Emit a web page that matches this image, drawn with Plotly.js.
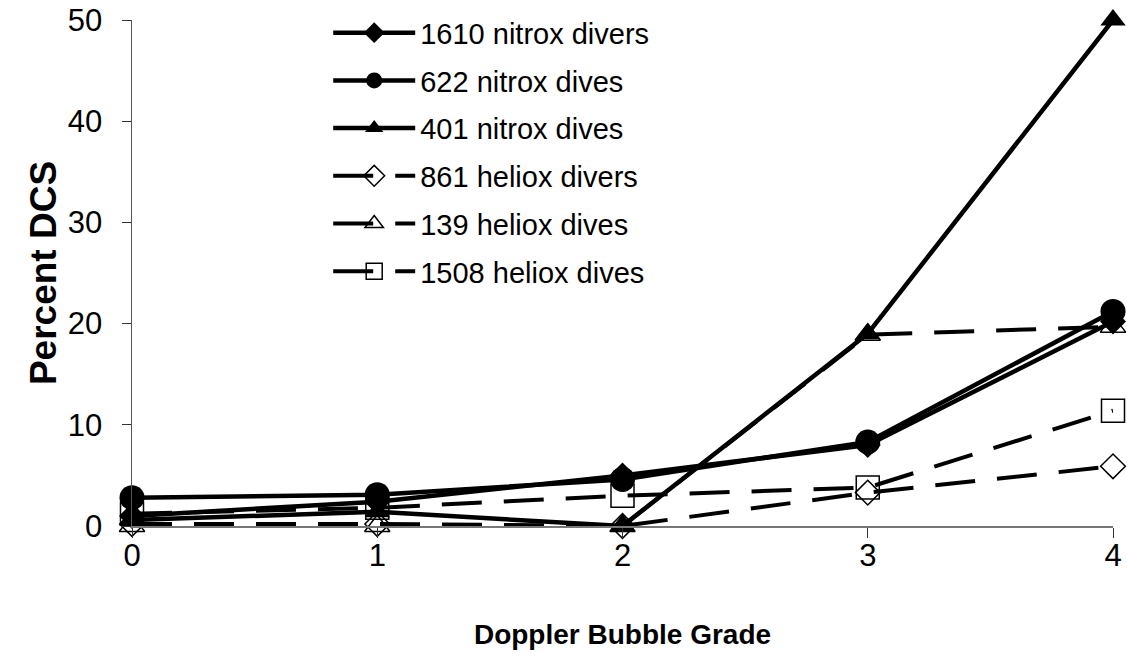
<!DOCTYPE html>
<html>
<head>
<meta charset="utf-8">
<script src="https://cdn.plot.ly/plotly-3.0.1.min.js"></script>
<style>html,body{margin:0;padding:0;background:#fff;}#chart{width:1127px;height:659px;}</style>
</head>
<body>
<div id="chart"></div>
<script>
const grades = [0, 1, 2, 3, 4];
const tickLabels = ["0", "1", "2", "3", "4"];
const seriesNames = ["1610 nitrox divers", "622 nitrox dives", "401 nitrox dives", "861 heliox divers", "139 heliox dives", "1508 heliox dives"];
const nitroxDivers1610 = [1.0, 2.4, 5.0, 8.0, 20.2];
const nitroxDives622 = [2.8, 3.1, 4.6, 8.3, 21.2];
const nitroxDives401 = [0.6, 1.4, 0, 19.0, 50];
const helioxDivers861 = [0.2, 0.2, 0, 3.3, 5.9];
const helioxDives139 = [0, 0, 0, 18.9, 19.7];
const helioxDives1508 = [1.2, 1.8, 3.0, 3.8, 11.4];

const seriesValues = [nitroxDivers1610, nitroxDives622, nitroxDives401, helioxDivers861, helioxDives139, helioxDives1508];
const symbols = ["diamond", "circle", "triangle-up", "diamond-open", "triangle-up-open", "square-open"];
const sizes = [20, 25, 22, 19, 22, 23];
const dashed = [false, false, false, true, true, true];

const traces = seriesValues.map((vals, i) => ({
  type: "scatter",
  mode: "lines+markers",
  x: grades,
  y: vals,
  name: seriesNames[i],
  legendgroup: "g" + i,
  cliponaxis: false,
  line: {color: "#000", width: dashed[i] ? 4 : 4.5, dash: dashed[i] ? "40px,22px" : "solid"},
  marker: {symbol: symbols[i], size: sizes[i], color: "#000", line: {color: "#000", width: dashed[i] ? 1.5 : 0}}
}));

const layout = {
  width: 1127,
  height: 659,
  margin: {l: 132, r: 14, t: 20, b: 133, autoexpand: false},
  paper_bgcolor: "#fff",
  plot_bgcolor: "#fff",
  font: {family: "Arial, 'Liberation Sans', sans-serif", color: "#000", size: 24},
  showlegend: true,
  legend: {
    x: 0.2, y: 1.025, xanchor: "left", yanchor: "top",
    font: {size: 29, color: "#000"},
    tracegroupgap: 7,
    itemwidth: 82,
    bgcolor: "rgba(0,0,0,0)",
    itemsizing: "trace"
  },
  xaxis: {
    range: [0, 4],
    tickvals: grades,
    ticktext: tickLabels,
    showgrid: false,
    zeroline: false,
    showline: true,
    linecolor: "#777",
    linewidth: 1.5,
    ticks: "outside",
    ticklen: 10,
    tickcolor: "#333",
    ticklabelstandoff: -9,
    tickfont: {size: 31},
    title: {text: "<b>Doppler Bubble Grade</b>", font: {size: 28}, standoff: 52}
  },
  yaxis: {
    range: [0, 50],
    tickvals: [0, 10, 20, 30, 40, 50],
    showgrid: false,
    zeroline: false,
    showline: true,
    linecolor: "#555",
    linewidth: 1.5,
    ticks: "outside",
    ticklen: 9,
    tickcolor: "#333",
    ticklabelstandoff: 13,
    tickfont: {size: 31},
    title: {text: "<b>Percent DCS</b>", font: {size: 37}, standoff: 0}
  }
};

Plotly.newPlot("chart", traces, layout, {displayModeBar: false, staticPlot: true});
</script>
</body>
</html>
